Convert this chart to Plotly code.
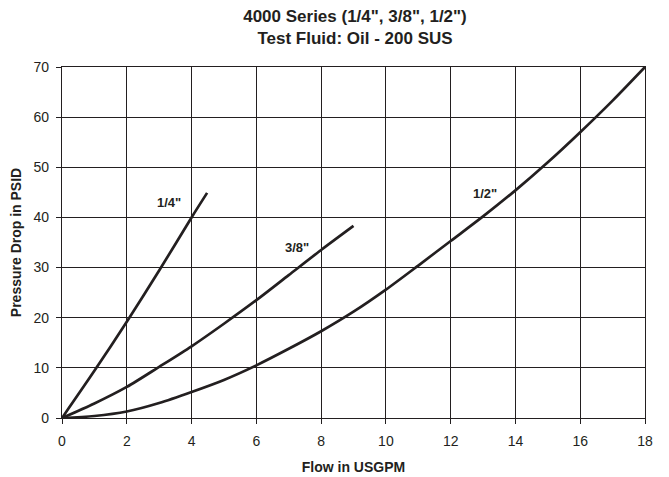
import plotly.graph_objects as go

x_quarter = [0, 1, 2, 3, 4, 4.48]
y_quarter = [0, 9.4, 19.2, 29.4, 40.0, 44.9]

x_three8 = [0, 1, 2, 3, 4, 5, 6, 7, 8, 9.0]
y_three8 = [0, 2.9, 6.2, 10.2, 14.3, 18.8, 23.5, 28.5, 33.5, 38.3]

x_half = [0, 1, 2, 3, 4, 5, 6, 7, 8, 9, 10, 11, 12, 13, 14, 15, 16, 17, 18]
y_half = [0, 0.4, 1.3, 3.0, 5.2, 7.6, 10.5, 13.8, 17.3, 21.2, 25.6, 30.4, 35.3, 40.2, 45.4, 51.0, 57.0, 63.3, 70.0]

label_text = ['1/4"', '3/8"', '1/2"']
label_x = [3.29, 7.27, 13.06]
label_y = [43.0, 34.0, 44.7]

x_ticks = [0, 2, 4, 6, 8, 10, 12, 14, 16, 18]
y_ticks = [0, 10, 20, 30, 40, 50, 60, 70]

INK = "#231f20"
FONT = "Liberation Sans, Arial, sans-serif"

W, H = 661, 469  # page body adds an 8px margin

fig = go.Figure()
for xs, ys in [(x_quarter, y_quarter), (x_three8, y_three8), (x_half, y_half)]:
    fig.add_trace(go.Scatter(x=xs, y=ys, mode="lines",
                             line=dict(color=INK, width=2.7, shape="spline", smoothing=0.8),
                             showlegend=False, hoverinfo="skip"))

for t, lx, ly in zip(label_text, label_x, label_y):
    fig.add_annotation(x=lx, y=ly, text="<b>%s</b>" % t, showarrow=False,
                       font=dict(family=FONT, size=13, color=INK))

fig.update_layout(
    width=W, height=H,
    margin=dict(l=54, r=24, t=59, b=59),
    paper_bgcolor="white", plot_bgcolor="white",
    font=dict(family=FONT, color=INK),
    title=dict(text="<b>4000 Series (1/4\", 3/8\", 1/2\")<br>Test Fluid: Oil - 200 SUS</b>",
               x=347 / W, xanchor="center", xref="container",
               y=1 - 14 / H, yanchor="middle", yref="container",
               font=dict(family=FONT, size=17, color=INK)),
)
fig.update_xaxes(range=[0, 18], tickvals=x_ticks, ticktext=[str(v) for v in x_ticks],
                 showgrid=True, gridcolor=INK, gridwidth=1, automargin=False,
                 showline=True, linecolor=INK, linewidth=1.2, mirror=True,
                 ticks="outside", ticklen=5, tickcolor=INK, zeroline=False,
                 tickfont=dict(family=FONT, size=14, color=INK), ticklabelstandoff=5,
                 title=dict(text="<b>Flow in USGPM</b>", font=dict(family=FONT, size=14, color=INK), standoff=14))
fig.update_yaxes(range=[0, 70], tickvals=y_ticks, ticktext=[str(v) for v in y_ticks],
                 showgrid=True, gridcolor=INK, gridwidth=1, automargin=False,
                 showline=True, linecolor=INK, linewidth=1.2, mirror=True,
                 ticks="outside", ticklen=5, tickcolor=INK, zeroline=False,
                 tickfont=dict(family=FONT, size=14, color=INK), ticklabelstandoff=4,
                 title=dict(text="<b>Pressure Drop in PSID</b>", font=dict(family=FONT, size=14, color=INK), standoff=8))

fig.write_html("out.html")
